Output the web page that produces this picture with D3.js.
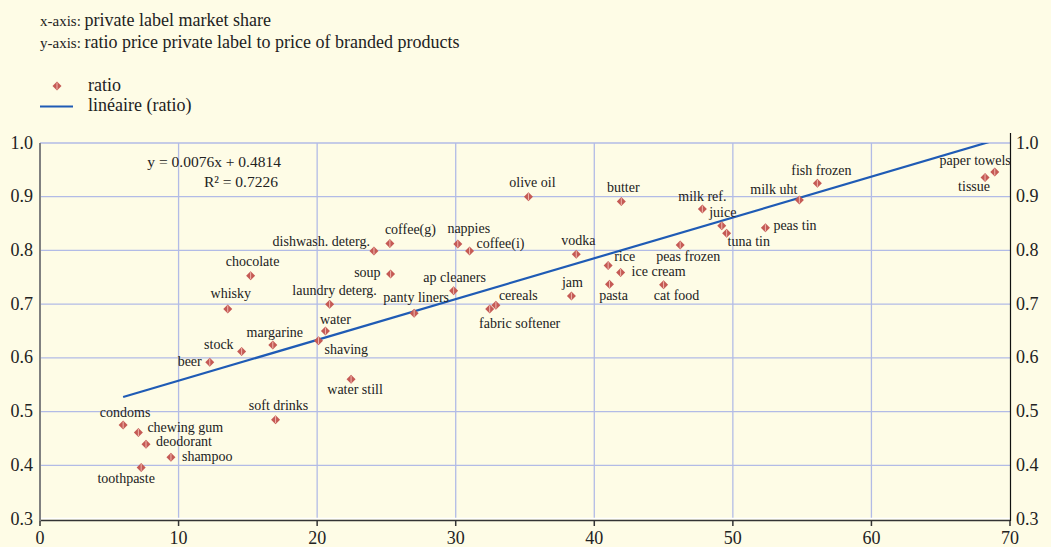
<!DOCTYPE html>
<html>
<head>
<meta charset="utf-8">
<script src="https://cdn.jsdelivr.net/npm/d3@7"></script>
<style>
  html, body { margin: 0; padding: 0; background: #fefce6; }
  svg { display: block; font-family: "Liberation Serif", "Times New Roman", serif; }
</style>
</head>
<body>
<svg id="s" width="1051" height="547"></svg>
<script>
// Data
const names = ["condoms", "chewing gum", "deodorant", "shampoo", "toothpaste", "soft drinks",
    "chocolate", "whisky", "laundry deterg.", "dishwash. deterg.", "coffee(g)", "soup",
    "nappies", "coffee(i)", "ap cleaners", "panty liners", "cereals", "fabric softener",
    "olive oil", "butter", "vodka", "rice", "ice cream", "pasta", "jam", "water", "shaving",
    "margarine", "stock", "beer", "water still", "milk ref.", "juice", "tuna tin",
    "peas frozen", "peas tin", "milk uht", "fish frozen", "paper towels", "tissue", "cat food"],
  share = [6.0, 7.1, 7.65, 9.45, 7.3, 17.0,
    15.2, 13.55, 20.9, 24.1, 25.25, 25.3,
    30.15, 31.0, 29.85, 27.0, 32.9, 32.45,
    35.25, 41.95, 38.7, 41.0, 41.9, 41.1, 38.35, 20.6, 20.1,
    16.8, 14.55, 12.25, 22.45, 47.8, 49.2, 49.55,
    46.2, 52.35, 54.8, 56.1, 68.9, 68.2, 45.0],
  ratio = [0.475, 0.461, 0.439, 0.415, 0.396, 0.485,
    0.753, 0.691, 0.700, 0.799, 0.813, 0.756,
    0.812, 0.799, 0.725, 0.683, 0.698, 0.691,
    0.900, 0.891, 0.793, 0.772, 0.759, 0.737, 0.715, 0.650, 0.632,
    0.624, 0.612, 0.592, 0.560, 0.877, 0.846, 0.832,
    0.810, 0.842, 0.894, 0.925, 0.946, 0.936, 0.736],
  xTicks = [0, 10, 20, 30, 40, 50, 60, 70],
  yTicks = [0.3, 0.4, 0.5, 0.6, 0.7, 0.8, 0.9, 1.0],
  slope = 0.0076,
  intercept = 0.4814,
  // label placement relative to each point: anchor, dx, dy
  labelAnchor = ["middle", "start", "start", "start", "middle", "middle",
    "middle", "middle", "middle", "end", "start", "end",
    "middle", "start", "middle", "middle", "start", "middle",
    "middle", "middle", "middle", "start", "start", "middle", "middle", "middle", "start",
    "middle", "end", "end", "middle", "middle", "middle", "start",
    "middle", "start", "end", "middle", "end", "middle", "middle"],
  labelDx = [2, 9, 10, 11, -15, 3,
    2, 3, 5, -4, -5, -10,
    11, 7, 1, 2, 3, 30,
    4, 2, 2, 6, 11, 4, 1, 10, 6,
    2, -8, -8, 4, 0, 1, 1,
    8, 8, -2, 4, 16, -11, 13],
  labelDy = [-8, -1, 2, 4, 16, -10,
    -10, -11, -9, -5, -9, 3,
    -11, -3, -9, -11, -5, 19,
    -10, -10, -9, -4, 4, 16, -9, -7, 13,
    -8, -2, 4, 15, -8, -9, 13,
    16, 2, -6, -8, -7, 14, 15];

const svg = d3.select("#s"),
  margin = {left: 40, right: 1010, top: 143, bottom: 519},
  x = d3.scaleLinear().domain([0, 70]).range([margin.left, margin.right]),
  y = d3.scaleLinear().domain([0.3, 1.0]).range([margin.bottom, margin.top]),
  gridColor = "#b2bbe6",
  dotFill = "#c55a55";

svg.append("rect").attr("width", 1051).attr("height", 547).attr("fill", "#fefce6");

// Header
const title = svg.append("g").attr("fill", "#222");
[["x-axis: ", "private label market share", 26], ["y-axis: ", "ratio price private label to price of branded products", 48]]
  .forEach(([a, b, yy]) => {
    const t = title.append("text").attr("x", 40).attr("y", yy).attr("font-size", 18);
    t.append("tspan").attr("font-size", 15).text(a);
    t.append("tspan").text(b);
  });

// Legend
const diamond = (g, cx, cy) => {
  g.append("path")
    .attr("d", `M${cx},${cy - 4.5}L${cx + 4.5},${cy}L${cx},${cy + 4.5}L${cx - 4.5},${cy}Z`)
    .attr("fill", dotFill);
  g.append("line")
    .attr("x1", cx).attr("x2", cx).attr("y1", cy - 3.5).attr("y2", cy + 3.5)
    .attr("stroke", "#efb7ae").attr("stroke-width", 1);
};
const legend = svg.append("g").attr("font-size", 18).attr("fill", "#222");
diamond(legend, 57, 86);
legend.append("text").attr("x", 88).attr("y", 91).text("ratio");
legend.append("line").attr("x1", 40).attr("x2", 73).attr("y1", 106.5).attr("y2", 106.5)
  .attr("stroke", "#1f5bb5").attr("stroke-width", 2);
legend.append("text").attr("x", 88).attr("y", 111).text("linéaire (ratio)");

// Grid
const grid = svg.append("g").attr("stroke", gridColor).attr("stroke-width", 1.3);
grid.selectAll(".gx").data(xTicks.filter(d => d > 0 && d < 70)).join("line")
  .attr("x1", d => x(d)).attr("x2", d => x(d)).attr("y1", y(1.0)).attr("y2", y(0.3));
grid.selectAll(".gy").data(yTicks.filter(d => d > 0.3)).join("line")
  .attr("x1", x(0)).attr("x2", x(70)).attr("y1", d => y(d)).attr("y2", d => y(d));

// Axes
const ax = svg.append("g").attr("font-size", 18).attr("fill", "#222");
ax.append("line").attr("x1", x(0)).attr("x2", x(70)).attr("y1", y(0.3) - 0.5).attr("y2", y(0.3) - 0.5)
  .attr("stroke", "#fff").attr("stroke-width", 1.5);
ax.append("line").attr("x1", x(0)).attr("x2", x(70)).attr("y1", y(0.3) + 1.5).attr("y2", y(0.3) + 1.5)
  .attr("stroke", "#333").attr("stroke-width", 1.5);
ax.selectAll(".tk").data(xTicks).join("line")
  .attr("x1", d => x(d)).attr("x2", d => x(d)).attr("y1", y(0.3) + 1.5).attr("y2", y(0.3) + 7)
  .attr("stroke", "#333").attr("stroke-width", 1.5);
ax.append("line").attr("x1", x(0)).attr("x2", x(0)).attr("y1", y(1.0)).attr("y2", y(0.3) + 2)
  .attr("stroke", "#808080").attr("stroke-width", 2);
ax.append("line").attr("x1", x(70) + 0.5).attr("x2", x(70) + 0.5).attr("y1", y(1.0) - 10).attr("y2", y(0.3) + 2)
  .attr("stroke", "#111").attr("stroke-width", 1.2);
ax.selectAll(".xl").data(xTicks).join("text")
  .attr("x", d => x(d)).attr("y", 544).attr("text-anchor", "middle").text(d => d);
ax.selectAll(".yl").data(yTicks).join("text")
  .attr("x", 33).attr("y", d => y(d) + 5.5).attr("text-anchor", "end").text(d3.format(".1f"));
ax.selectAll(".yr").data(yTicks).join("text")
  .attr("x", 1016).attr("y", d => y(d) + 5.5).text(d3.format(".1f"));

// Trend line
svg.append("clipPath").attr("id", "clip").append("rect")
  .attr("x", x(0)).attr("y", y(1.0)).attr("width", x(70) - x(0)).attr("height", y(0.3) - y(1.0));
const [x0, x1] = d3.extent(share);
svg.append("line").attr("clip-path", "url(#clip)")
  .attr("x1", x(x0)).attr("y1", y(slope * x0 + intercept))
  .attr("x2", x(x1)).attr("y2", y(slope * x1 + intercept))
  .attr("stroke", "#1f5bb5").attr("stroke-width", 2.2);

// Equation
const eq = svg.append("g").attr("font-size", 15.5).attr("fill", "#222").attr("text-anchor", "end");
eq.append("text").attr("x", 281).attr("y", 167).text(`y = ${slope}x + ${intercept}`);
eq.append("text").attr("x", 278).attr("y", 187).text("R² = 0.7226");

// Points and labels
const pts = svg.append("g");
names.forEach((n, i) => diamond(pts, x(share[i]), y(ratio[i])));
svg.append("g").attr("font-size", 14).attr("fill", "#222")
  .selectAll("text").data(names).join("text")
  .attr("x", (d, i) => x(share[i]) + labelDx[i])
  .attr("y", (d, i) => y(ratio[i]) + labelDy[i])
  .attr("text-anchor", (d, i) => labelAnchor[i])
  .text(d => d);
</script>
</body>
</html>
